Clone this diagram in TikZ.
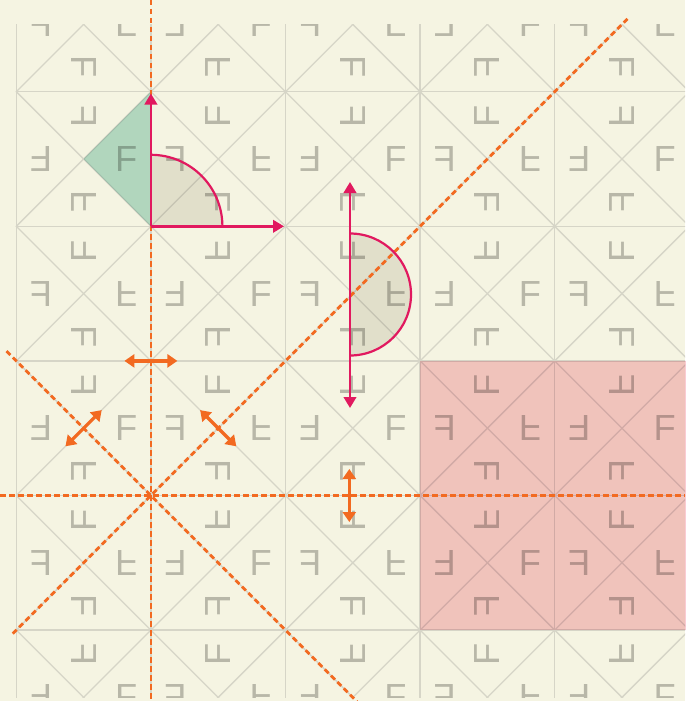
\documentclass[tikz,border=0pt]{standalone}
\usepackage{fontspec}
\usepackage{graphicx}
\usetikzlibrary{arrows.meta}
\newfontfamily\lettf{Liberation Sans}
\definecolor{bgc}{RGB}{245,244,226}
\definecolor{gridc}{RGB}{214,213,199}
\definecolor{letc}{RGB}{184,183,168}
\definecolor{pinkm}{RGB}{250,204,212}
\definecolor{greenm}{RGB}{185,224,214}
\definecolor{beigem}{RGB}{235,234,229}
\definecolor{mag}{RGB}{225,25,95}
\definecolor{orng}{RGB}{242,106,33}
\begin{document}
\begin{tikzpicture}[x=1pt,y=-1pt,
  letter/.style={font=\lettf\fontsize{36.3}{36.3}\selectfont, text=letc, inner sep=0pt, outer sep=0pt},
  gridline/.style={draw=gridc, line width=1.3pt},
  mirrorline/.style={draw=orng, line width=2.7pt, dash pattern=on 5.5pt off 3.5pt},
  refarrow/.style={draw=orng, line width=3.2pt, {Triangle[length=10pt,width=13pt]}-{Triangle[length=10pt,width=13pt]}},
  rotarrow/.style={draw=mag, line width=2.4pt, -{Triangle[length=11pt,width=12.5pt]}},
  rotdarrow/.style={draw=mag, line width=2.4pt, {Triangle[length=11pt,width=12.5pt]}-{Triangle[length=11pt,width=12.5pt]}},
  rotarc/.style={draw=mag, line width=2.2pt},
]
\def\ox{16.3}\def\oy{91.7}\def\gs{134.6}\def\dd{42.6}
\useasboundingbox (0,0) rectangle (685,701);
\fill[bgc] (0,0) rectangle (685,701);

\begin{scope}
\clip (15.5,24.4) rectangle (685,697.4);
\foreach \i in {0,...,5} \draw[gridline] ({\ox+\i*\gs},0) -- ({\ox+\i*\gs},701);
\foreach \j in {0,...,4} \draw[gridline] (0,{\oy+\j*\gs}) -- (700,{\oy+\j*\gs});
\foreach \i in {0,...,4} \foreach \j in {-1,...,4} {
  \draw[gridline] ({\ox+\i*\gs},{\oy+\j*\gs}) -- ++(\gs,\gs);
  \draw[gridline] ({\ox+\i*\gs},{\oy+(\j+1)*\gs}) -- ++(\gs,-\gs);
}
\foreach \i in {0,...,4} \foreach \j in {-1,...,4} {
  \pgfmathsetmacro\cx{\ox+(\i+0.5)*\gs}
  \pgfmathsetmacro\cy{\oy+(\j+0.5)*\gs}
  \pgfmathtruncatemacro\pty{mod(\i+\j+2,2)}
  \ifnum\pty=0
    \node[letter] (fr\i\j) at ({\cx+\dd},\cy) {F};
    \node[letter,rotate=-90] (ft\i\j) at (\cx,{\cy-\dd}) {\reflectbox{F}};
    \node[letter,rotate=180] (fl\i\j) at ({\cx-\dd},\cy) {F};
    \node[letter,rotate=90] (fb\i\j) at (\cx,{\cy+\dd}) {\reflectbox{F}};
  \else
    \node[letter,rotate=180] (fr\i\j) at ({\cx+\dd},\cy) {\reflectbox{F}};
    \node[letter,rotate=90] (ft\i\j) at (\cx,{\cy-\dd}) {F};
    \node[letter] (fl\i\j) at ({\cx-\dd},\cy) {\reflectbox{F}};
    \node[letter,rotate=-90] (fb\i\j) at (\cx,{\cy+\dd}) {F};
  \fi
}
\end{scope}

\begin{scope}[blend mode=multiply]
\fill[pinkm] (420.1,360.9) rectangle (690,630.1);
\fill[greenm] (150.9,91.7) -- (83.6,159) -- (150.9,226.3) -- cycle;
\fill[beigem] (150.9,226.3) -- (150.9,154.8) arc[start angle=-90,end angle=0,radius=71.5] -- cycle;
\fill[beigem] (350,233.5) arc[start angle=-90,end angle=90,radius=61] -- cycle;
\end{scope}

% mirror lines
\coordinate (mv1) at (150.9,0);
\coordinate (mv2) at (150.9,701);
\coordinate (mh1) at (0,495.5);
\coordinate (mh2) at (685,495.5);
\coordinate (md1) at (12.8,633.6);
\coordinate (md2) at (627.5,18.9);
\coordinate (me1) at (6.5,351.1);
\coordinate (me2) at (357,701.6);
\draw[mirrorline] (mv1) -- (mv2);
\draw[mirrorline] (mh1) -- (mh2);
\draw[mirrorline] (md1) -- (md2);
\draw[mirrorline] (me1) -- (me2);

% reflection arrows
\coordinate (ha1) at (124.4,360.9);
\coordinate (ha2) at (177.4,360.9);
\coordinate (da1) at (65.5,446.3);
\coordinate (da2) at (101.7,410.1);
\coordinate (ea1) at (200.1,410.1);
\coordinate (ea2) at (236.3,446.3);
\coordinate (va1) at (349.3,469);
\coordinate (va2) at (349.3,522);
\draw[refarrow] (ha1) -- (ha2);
\draw[refarrow] (da1) -- (da2);
\draw[refarrow] (ea1) -- (ea2);
\draw[refarrow] (va1) -- (va2);

% rotations
\coordinate (c4) at (150.9,226.3);
\coordinate (u4) at (150.9,93.5);
\coordinate (r4) at (284,226.3);
\coordinate (q1) at (150.9,154.8);
\coordinate (s1) at (350,233.5);
\coordinate (c2t) at (350,182);
\coordinate (c2b) at (350,408);
\draw[rotarc] (q1) arc[start angle=-90,end angle=0,radius=71.5];
\draw[rotarc] (s1) arc[start angle=-90,end angle=90,radius=61];
\draw[rotarrow] (c4) -- (u4);
\draw[rotarrow] (c4) -- (r4);
\draw[rotdarrow] (c2t) -- (c2b);
\end{tikzpicture}
\end{document}
